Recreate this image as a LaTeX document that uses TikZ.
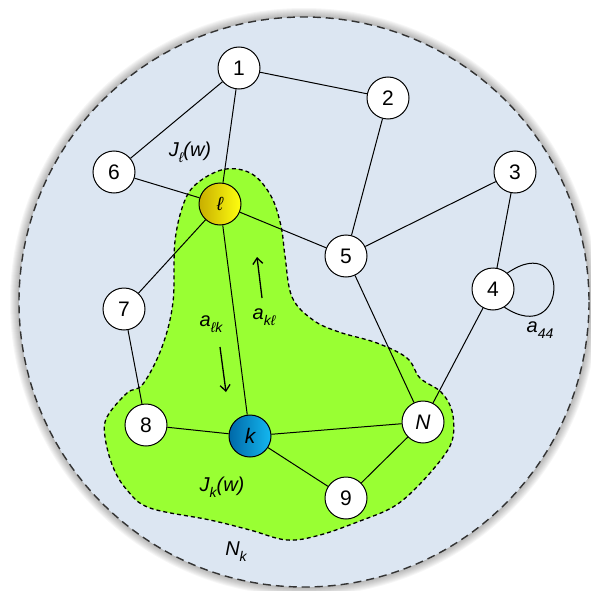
\documentclass[tikz,border=0pt]{standalone}
\usepackage{fontspec}
\setmainfont{Liberation Sans}
\usetikzlibrary{arrows.meta}
\definecolor{bgblue}{HTML}{DCE6F2}
\definecolor{blobgreen}{HTML}{99FF33}
\definecolor{ydark}{HTML}{C8AE00}
\definecolor{ylight}{HTML}{FFFF10}
\definecolor{bdark}{HTML}{0068A8}
\definecolor{blight}{HTML}{14B8F0}
\newcommand\mysub[1]{\raisebox{-0.3em}{\fontsize{14}{14}\selectfont #1}}
\begin{document}
\begin{tikzpicture}[x=1pt,y=-1pt,
  vtx/.style={circle, draw=black, line width=1pt, fill=white, minimum size=42pt, inner sep=0pt, font=\fontsize{21}{21}\selectfont},
  edge/.style={line width=1pt},
  lbl/.style={font=\fontsize{20}{20}\selectfont\itshape, inner sep=0pt},
  ann/.style={line width=1.3pt, -{Straight Barb[length=6pt,width=10pt]}}]
\useasboundingbox (0,0) rectangle (591,591);
% shadow
\foreach \i in {0,...,9} \fill[black,opacity=0.035] (304,302) circle ({285+\i});
\fill[bgblue] (304,302) circle (285);
\draw[line width=1.4pt, color=black!80, dash pattern=on 8pt off 5pt] (304,302) circle (285);
% green blob
\filldraw[fill=blobgreen, draw=black, line width=1.3pt, dash pattern=on 4pt off 3pt]
  plot[smooth cycle, tension=0.6] coordinates {
  (226,169) (252,174) (271,196) (281,226) (285,256) (292,297) (313,320) (339,332)
  (377,343) (407,358) (420,378) (441,392) (452,411) (453,437) (443,457) (417,487)
  (393,507) (360,521) (320,535) (287,540) (250,530) (210,520) (150,508) (127,490)
  (113,467) (105,437) (107,417) (127,393) (143,384) (162,347) (173,302) (175,241)
  (185,200) (200,181)};
% nodes
\node[vtx] (n1) at (239,68) {1};
\node[vtx] (n2) at (388,98) {2};
\node[vtx] (n3) at (515,172) {3};
\node[vtx] (n4) at (493,289) {4};
\node[vtx] (n5) at (346,256) {5};
\node[vtx] (n6) at (114,172) {6};
\node[vtx] (n7) at (124,309) {7};
\node[vtx] (n8) at (146,425) {8};
\node[vtx] (n9) at (346,498) {9};
\node[vtx] (nN) at (423,422) {\itshape N};
\node[vtx, left color=ydark, right color=ylight] (nl) at (220,204) {\fontsize{19}{19}\selectfont\itshape ℓ};
\node[vtx, left color=bdark, right color=blight] (nk) at (250,436) {\itshape k};
% edges
\draw[edge] (n1) -- (n2);
\draw[edge] (n1) -- (n6);
\draw[edge] (n1) -- (nl);
\draw[edge] (n6) -- (nl);
\draw[edge] (nl) -- (n5);
\draw[edge] (nl) -- (n7);
\draw[edge] (nl) -- (nk);
\draw[edge] (n2) -- (n5);
\draw[edge] (n5) -- (n3);
\draw[edge] (n5) -- (nN);
\draw[edge] (n3) -- (n4);
\draw[edge] (n4) -- (nN);
\draw[edge] (n7) -- (n8);
\draw[edge] (n8) -- (nk);
\draw[edge] (nk) -- (nN);
\draw[edge] (nk) -- (n9);
\draw[edge] (n9) -- (nN);
\draw[edge] (n4.48) .. controls +(64,-44) and +(64,42) .. (n4.-58);
% labels
\node[lbl] (tJl) at (190,152) {J\mysub{ℓ}(w)};
\node[lbl] (tJk) at (222,487) {J\mysub{k}(w)};
\node[lbl] (tNk) at (236,552) {N\mysub{k}};
\node[lbl] (tlk) at (211,324) {a\mysub{ℓk}};
\node[lbl] (tkl) at (264,317) {a\mysub{kℓ}};
\node[lbl] (t44) at (540,330) {a\mysub{44}};
% annotation arrows
\coordinate (u0) at (262,298); \coordinate (u1) at (257,257);
\coordinate (d0) at (220,347); \coordinate (d1) at (226,392);
\draw[ann] (u0) -- (u1);
\draw[ann] (d0) -- (d1);
\end{tikzpicture}
\end{document}
